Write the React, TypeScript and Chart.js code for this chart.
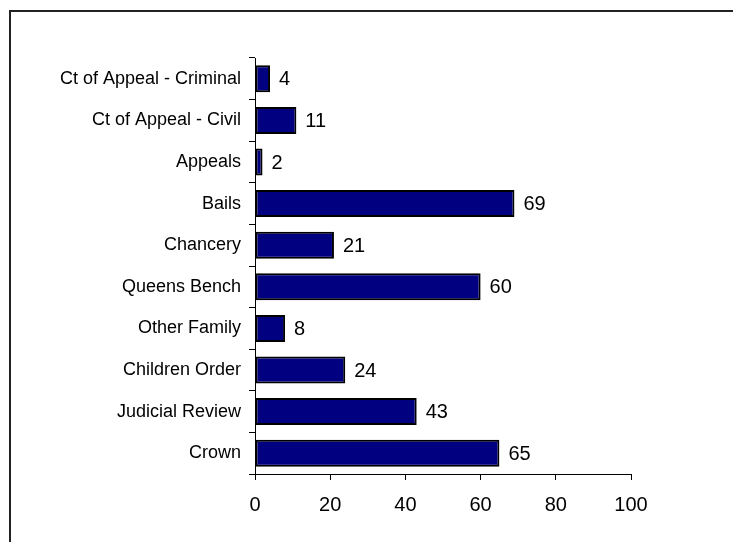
import React, { useEffect, useRef } from "react";
import { Chart, registerables } from "chart.js";

Chart.register(...registerables);

const categories = [
  "Ct of Appeal - Criminal",
  "Ct of Appeal - Civil",
  "Appeals",
  "Bails",
  "Chancery",
  "Queens Bench",
  "Other Family",
  "Children Order",
  "Judicial Review",
  "Crown",
];
const values = [4, 11, 2, 69, 21, 60, 8, 24, 43, 65];
const xTicks = [0, 20, 40, 60, 80, 100];

const FONT = "'Liberation Sans', Arial, sans-serif";

const framePlugin = {
  id: "frame",
  beforeDraw(chart: any) {
    const ctx = chart.ctx;
    ctx.save();
    ctx.fillStyle = "#ffffff";
    ctx.fillRect(0, 0, chart.width, chart.height);
    ctx.strokeStyle = "#222222";
    ctx.lineWidth = 2;
    ctx.beginPath();
    ctx.moveTo(10, 11);
    ctx.lineTo(chart.width, 11);
    ctx.moveTo(10, 10);
    ctx.lineTo(10, chart.height);
    ctx.stroke();
    ctx.restore();
  },
};

const labelPlugin = {
  id: "barLabels",
  afterDatasetsDraw(chart: any) {
    const ctx = chart.ctx;
    const meta = chart.getDatasetMeta(0);
    ctx.save();
    ctx.font = `20px ${FONT}`;
    ctx.fillStyle = "#000000";
    ctx.textAlign = "left";
    ctx.textBaseline = "middle";
    meta.data.forEach((el: any, i: number) => {
      ctx.fillText(String(values[i]), el.x + 9, el.y + 1);
    });
    ctx.restore();
  },
};

export default function App() {
  const ref = useRef<HTMLCanvasElement | null>(null);

  useEffect(() => {
    document.body.style.margin = "0";
    const canvas = ref.current;
    if (!canvas) return;
    const chart = new Chart(canvas, {
      type: "bar",
      data: {
        labels: categories,
        datasets: [
          {
            data: values,
            backgroundColor: "#000080",
            borderColor: "#000000",
            borderWidth: 2,
            borderSkipped: false,
            barPercentage: 1,
            categoryPercentage: 0.65,
          },
        ],
      },
      options: {
        indexAxis: "y",
        animation: false,
        responsive: false,
        maintainAspectRatio: false,
        devicePixelRatio: 1,
        layout: { padding: { left: 10, right: 102, top: 58, bottom: 0 } },
        plugins: {
          legend: { display: false },
          tooltip: { enabled: false },
          title: { display: false },
        },
        scales: {
          x: {
            type: "linear",
            min: 0,
            max: 100,
            afterBuildTicks(scale: any) {
              scale.ticks = xTicks.map((v) => ({ value: v }));
            },
            afterFit(scale: any) {
              scale.height = 68;
            },
            grid: {
              drawOnChartArea: false,
              drawTicks: true,
              tickLength: 6,
              color: "#000000",
              lineWidth: 1,
            },
            border: { display: true, color: "#000000", width: 1 },
            ticks: {
              padding: 13,
              color: "#000000",
              font: { family: FONT, size: 20 },
              maxRotation: 0,
            },
          },
          y: {
            type: "category",
            offset: true,
            afterFit(scale: any) {
              scale.width = 245;
            },
            grid: {
              offset: true,
              drawOnChartArea: false,
              drawTicks: true,
              tickLength: 6,
              color: "#000000",
              lineWidth: 1,
            },
            border: { display: true, color: "#000000", width: 1 },
            ticks: {
              padding: 8,
              color: "#000000",
              font: { family: FONT, size: 18 },
              autoSkip: false,
            },
          },
        },
      },
      plugins: [framePlugin, labelPlugin],
    });
    return () => chart.destroy();
  }, []);

  return (
    <div style={{ width: 733, height: 542 }}>
      <canvas ref={ref} width={733} height={542} style={{ display: "block" }} />
    </div>
  );
}
